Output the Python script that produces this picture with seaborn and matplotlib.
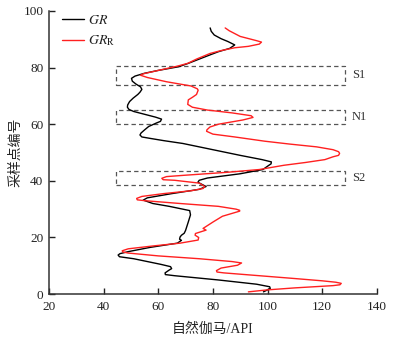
import numpy as np
import pandas as pd
import matplotlib
matplotlib.use("Agg")
import matplotlib.pyplot as plt
import seaborn as sns
from matplotlib.patches import Rectangle
from matplotlib.lines import Line2D

# ---- data ----
gr_sample = [94, 92.8, 91.5, 90.2, 89.2, 88, 86.8, 85.6, 84.5, 83, 81.5, 80.3, 79, 78, 77, 76.2,
             75.2, 74.2, 73.2, 72.3, 71.3, 70.5, 69.2, 68, 66.8, 66, 65.2, 64.5, 63.5, 62.5,
             61.8, 61, 60.5, 59.2, 58, 56.9, 56.2, 55.5, 55, 54.2, 53.2, 52, 51, 49, 47.5, 46.7,
             46, 45.5, 44, 42.5, 41, 40.2, 39.5, 38.5, 38, 37, 35.5, 34, 33.2, 32, 31, 29.5, 28,
             25.5, 22.5, 21.5, 20.8, 20.2, 19.4, 19, 18, 16.5, 15, 14.3, 13.8, 13.2, 12.5, 10.5,
             9.7, 9, 8.5, 7.5, 6.9, 6.5, 5, 3.5, 2.6, 2.0, 1.5, 0.8]
gr_value = [79, 79.4, 80.5, 83, 85.5, 88, 86.2, 82, 79, 75, 71, 67.5, 60, 55, 51.5, 50.2,
            50.5, 51.8, 53.5, 54, 53.3, 52.5, 50.8, 49.5, 48.8, 48.7, 49.3, 51, 55, 59,
            61.2, 60.8, 59.5, 56.5, 55, 53.7, 53.3, 54, 57, 62, 69, 75, 80, 90, 98, 101.4,
            101.3, 100.5, 98.3, 90, 78, 75, 74.5, 76.5, 77.5, 75, 65, 56, 54.5, 58, 64, 71.5, 71.8,
            71, 70, 69.5, 68.5, 68, 67.8, 68.5, 67, 57, 49, 46, 45.3, 45.8, 51, 61,
            64.5, 64.9, 64, 62.5, 62.6, 66, 82, 96, 100.8, 101, 100, 98.5]

grr_sample = [94, 93, 91, 89.5, 89, 88.3, 87.5, 87, 86, 85, 83, 81.5, 80.5, 79, 77.8, 77.3, 76.5,
              75, 73.5, 72.5, 72, 71, 70.5, 69.5, 68.6, 67, 66, 65, 64, 63, 62.4, 61.5, 60, 59,
              58, 57.5, 56.5, 55.5, 54, 53, 52, 51, 50.3, 49.7, 49, 48.5, 47.5, 46.5, 45.5, 44,
              43, 42, 41.5, 40.9, 40.4, 40.2, 39.2, 38, 37.3, 36.5, 35.5, 34.5, 33.8, 33.3, 33,
              32, 31, 30, 29.6, 29.3, 28.5, 27.5, 25.5, 23.2, 22.6, 21.4, 20.8, 20, 19.1, 18, 17,
              16, 15.3, 14.9, 14.5, 13.5, 12.5, 11.5, 11, 10.2, 9.2, 8.3, 7.8, 7.5, 6.5, 5.5, 4.7,
              4.2, 3.8, 3.3, 3, 2.2, 1.5, 0.8]
grr_value = [84.5, 86, 90, 96, 97.8, 97, 93, 88, 83, 79, 74, 70.8, 67, 60, 54.5, 53.5, 56,
             63, 72, 74.3, 74.6, 74.2, 74, 72.5, 71, 70.8, 72.5, 78, 87, 94, 94.7, 91, 82, 78.9,
             77.8, 77.7, 80, 88, 99, 108, 118, 124, 126, 126.4, 126, 124, 121, 114, 106, 97,
             85, 70, 63, 61.3, 61.8, 66, 75, 77, 76.4, 72, 62, 54, 52.1, 52.3, 55,
             68, 82, 88.5, 89.8, 89.8, 87, 83.5, 80.1, 76.4,
             77.5, 73.6, 73.5, 74.8, 74.6, 68, 58, 49, 46.8, 47, 49, 60, 75, 87, 90.5, 89,
             83, 81.3, 81.5, 84, 97, 110, 120, 125, 127, 126.5, 124, 110, 100, 93]

series_names = [r"$\mathit{GR}$", r"$\mathit{GR}_{\mathrm{R}}$"]
series_colors = ["#000000", "#ff2020"]

zone_names = ["S1", "N1", "S2"]
zone_low = [74.0, 60.0, 38.5]
zone_high = [80.5, 65.0, 43.5]
zone_x0, zone_x1 = 44.5, 128.5

x_ticks = [20, 40, 60, 80, 100, 120, 140]
y_ticks = [0, 20, 40, 60, 80, 100]
x_label = "自然伽马/API"
y_label = "采样点编号"

# ---- build table ----
df = pd.concat([
    pd.DataFrame({"value": gr_value, "sample": gr_sample, "series": series_names[0]}),
    pd.DataFrame({"value": grr_value, "sample": grr_sample, "series": series_names[1]}),
], ignore_index=True)

sns.set_style("ticks")
plt.rcParams["font.family"] = ["Liberation Serif", "Noto Sans CJK SC"]
plt.rcParams["mathtext.fontset"] = "stix"

fig = plt.figure(figsize=(3.93, 3.42), dpi=100)
ax = fig.add_axes([0.1247, 0.140, 0.834, 0.828])

sns.lineplot(data=df, x="value", y="sample", hue="series", palette=series_colors,
             hue_order=series_names, sort=False, estimator=None, units="series",
             orient="y", linewidth=1.0, ax=ax, legend=False)
for ln in ax.get_lines():
    ln.set_solid_joinstyle("round")

# dashed zone boxes
for name, lo, hi in zip(zone_names, zone_low, zone_high):
    ax.add_patch(Rectangle((zone_x0, lo), zone_x1 - zone_x0, hi - lo, fill=False,
                           edgecolor="#555555", linestyle=(0, (3.5, 2.5)), linewidth=0.9))
    ax.text(zone_x1 + 2.3, (lo + hi) / 2, name, fontsize=9, color="#333333",
            va="center", ha="left")

ax.set_xlim(20, 140)
ax.set_ylim(0, 100)
ax.set_xticks(x_ticks)
ax.set_yticks(y_ticks)
ax.tick_params(direction="in", length=4, width=1, labelsize=9.5, colors="#222222", pad=4)
ax.tick_params(axis="x", pad=5)
for s in ["top", "right"]:
    ax.spines[s].set_visible(False)
for s in ["left", "bottom"]:
    ax.spines[s].set_linewidth(1.1)
    ax.spines[s].set_color("#333333")

ax.set_xlabel(x_label, fontsize=10, labelpad=7)
ax.set_ylabel(y_label, fontsize=10, labelpad=1)

handles = [Line2D([0], [0], color=c, lw=1.0) for c in series_colors]
leg = ax.legend(handles, series_names, loc="upper left", bbox_to_anchor=(0.03, 1.0),
                frameon=False, fontsize=10, handlelength=1.6, handletextpad=0.3,
                labelspacing=0.5, borderaxespad=0.0, borderpad=0.2)
for t in leg.get_texts():
    t.set_color("#222222")

fig.savefig("out.png", dpi=100)
